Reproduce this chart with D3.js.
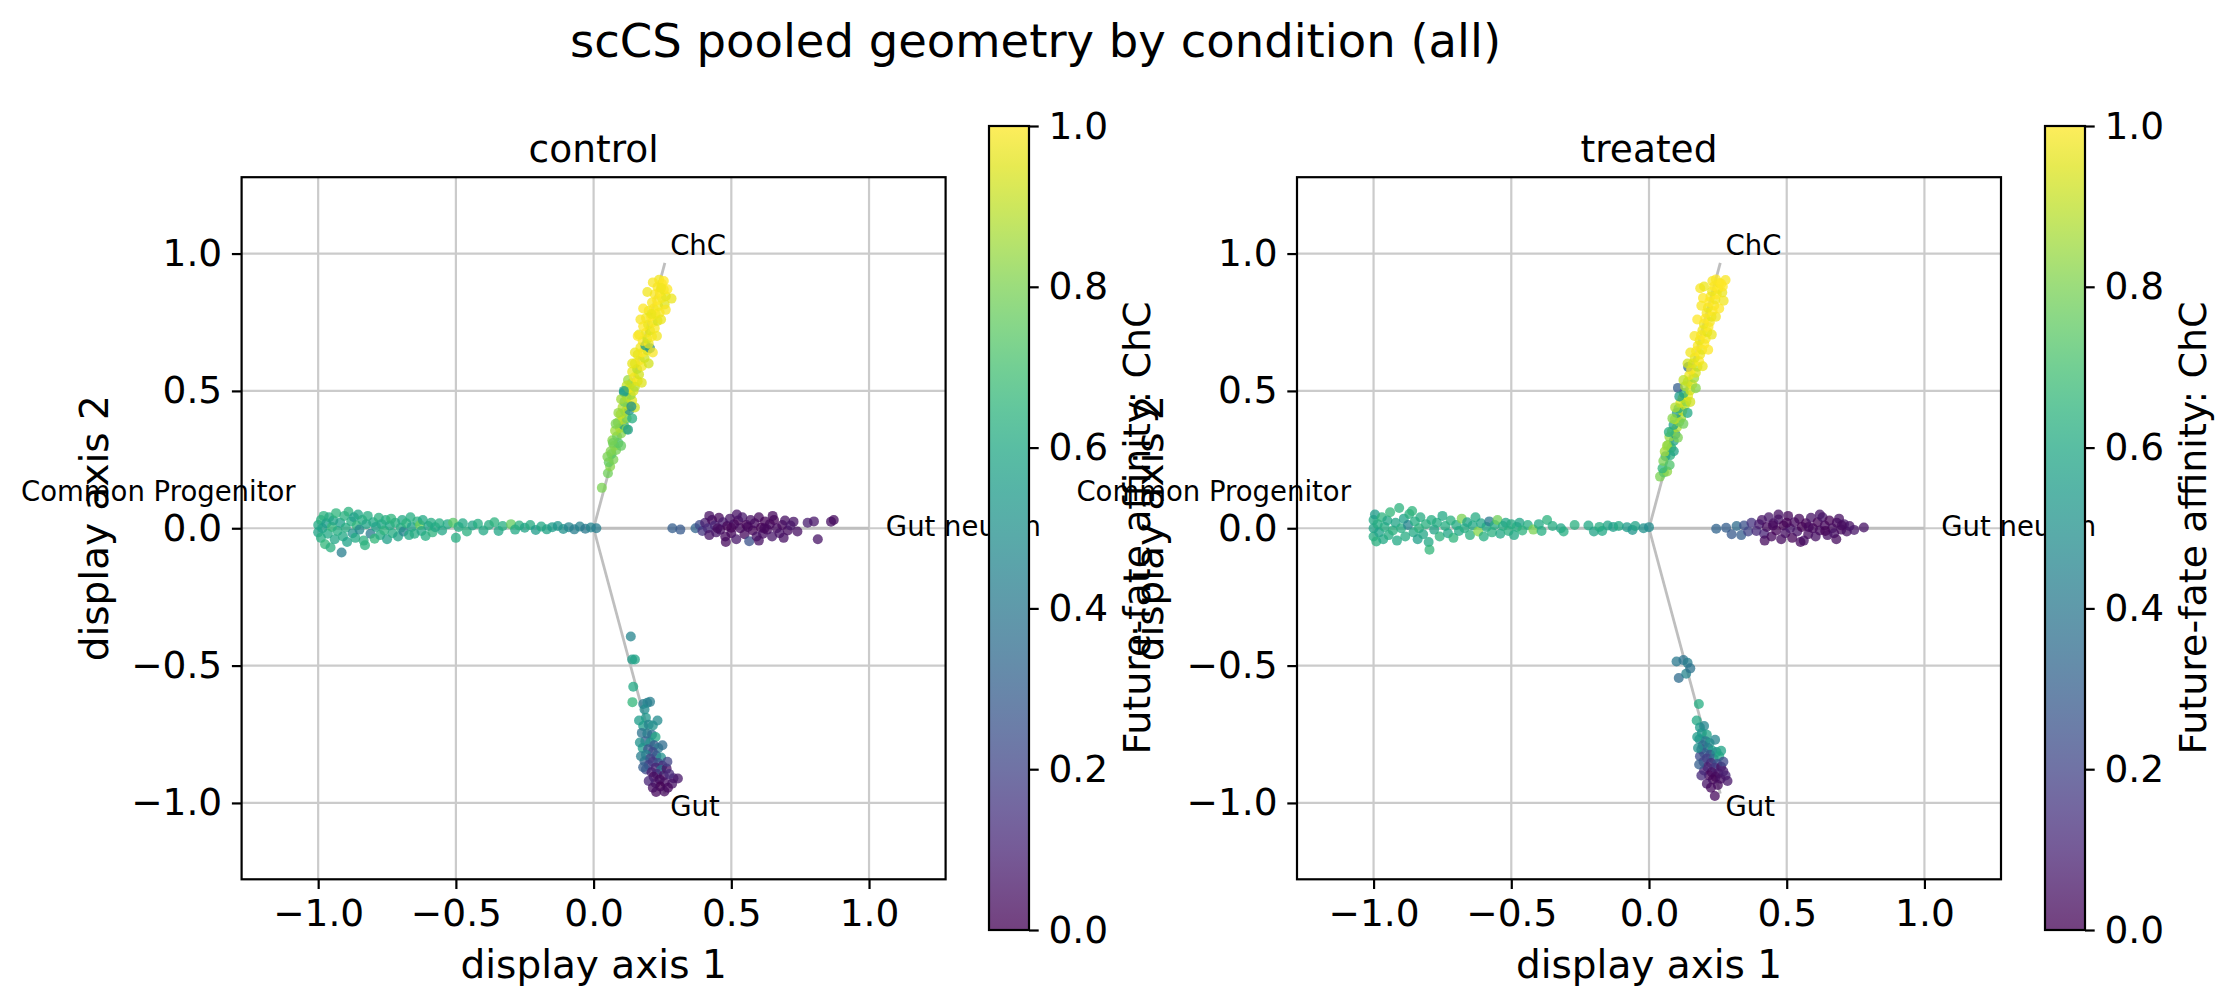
<!DOCTYPE html>
<html>
<head>
<meta charset="utf-8">
<script src="https://cdn.jsdelivr.net/npm/d3@7"></script>
<style>
body { margin: 0; background: #fff; }
svg { display: block; font-family: "DejaVu Sans", sans-serif; }
</style>
</head>
<body>
<svg id="chart"></svg>
<script>
// DATA
var figTitle = "scCS pooled geometry by condition (all)";
var panelNames = ["control", "treated"];
var xLabel = "display axis 1";
var yLabel = "display axis 2";
var cbarLabel = "Future-fate affinity: ChC";
var tickValues = [-1.0, -0.5, 0.0, 0.5, 1.0];
var cbarTicks = [0.0, 0.2, 0.4, 0.6, 0.8, 1.0];

var fateNames = ["Common Progenitor", "ChC", "Gut", "Gut neuron"];
var fateAnchors = [[-1, 0], [0.2588, 0.9659], [0.2588, -0.9659], [1, 0]];
var labelPos = [[-1.082, 0.098], [0.278, 0.994], [0.278, -1.046], [1.061, -0.027]];

// points: [axis 1, axis 2, affinity]
var ctrlProg = [
    [-1.00,0.012,0.60],[-1.00,-0.015,0.58],[-0.99,0.030,0.63],[-0.99,-0.035,0.62],[-0.985,0.000,0.57],[-0.98,0.045,0.64],
    [-0.975,-0.058,0.66],[-0.97,0.018,0.55],[-0.965,-0.020,0.60],[-0.96,0.040,0.61],[-0.955,-0.070,0.63],[-0.95,0.005,0.66],
    [-0.945,0.028,0.58],[-0.94,-0.040,0.59],[-0.935,0.055,0.65],[-0.93,-0.010,0.62],[-0.92,0.020,0.56],[-0.915,-0.088,0.42],
    [-0.91,-0.030,0.60],[-0.905,0.045,0.63],[-0.90,0.002,0.61],[-0.895,-0.050,0.57],[-0.89,0.060,0.64],[-0.88,0.025,0.62],
    [-0.875,-0.018,0.50],[-0.87,0.040,0.55],[-0.865,-0.035,0.60],[-0.86,0.010,0.65],[-0.855,0.050,0.59],[-0.85,-0.005,0.47],
    [-0.84,0.030,0.61],[-0.835,-0.045,0.63],[-0.83,-0.062,0.64],[-0.825,0.015,0.58],[-0.82,0.045,0.62],[-0.81,-0.020,0.40],
    [-0.80,0.022,0.60],[-0.795,-0.038,0.66],[-0.79,0.005,0.57],[-0.78,0.038,0.63],[-0.775,-0.025,0.61],[-0.77,0.015,0.59],
    [-0.76,-0.008,0.64],[-0.755,0.030,0.62],[-0.75,-0.040,0.56],[-0.74,0.010,0.60],[-0.735,0.035,0.65],[-0.73,-0.018,0.61],
    [-0.72,0.020,0.63],[-0.71,-0.030,0.58],[-0.70,0.002,0.62],[-0.695,0.030,0.60],[-0.69,-0.012,0.45],[-0.68,0.018,0.64],
    [-0.67,-0.025,0.60],[-0.665,0.040,0.62],[-0.66,0.005,0.57],[-0.65,-0.020,0.61],[-0.64,0.025,0.63],[-0.63,0.012,0.78],
    [-0.625,-0.010,0.59],[-0.62,0.030,0.60],[-0.61,-0.028,0.62],[-0.60,0.008,0.58],[-0.59,0.020,0.61],[-0.585,-0.015,0.64],
    [-0.575,0.004,0.60],[-0.56,0.018,0.62],[-0.55,-0.008,0.59],
    [-0.53,0.015,0.60],[-0.51,0.020,0.74],[-0.50,-0.035,0.62],[-0.49,0.005,0.61],[-0.475,0.018,0.60],[-0.46,-0.012,0.63],
    [-0.44,0.010,0.58],[-0.42,0.016,0.62],[-0.40,-0.008,0.60],[-0.38,0.012,0.61],[-0.36,0.022,0.64],[-0.345,-0.010,0.59],
    [-0.33,0.008,0.62],[-0.30,0.015,0.76],[-0.285,-0.005,0.60],[-0.27,0.010,0.63],[-0.25,0.002,0.58],[-0.23,0.012,0.61],
    [-0.21,-0.006,0.55],[-0.19,0.006,0.60],[-0.17,-0.004,0.58],[-0.15,0.004,0.55],[-0.13,0.008,0.52],[-0.11,-0.003,0.50],
    [-0.09,0.004,0.46],[-0.07,-0.004,0.42],[-0.05,0.006,0.44],[-0.03,-0.002,0.40],[-0.01,0.003,0.45],[0.01,0.000,0.42]
];
var ctrlChC = [
    [0.030,0.147,0.80],[0.052,0.200,0.78],[0.060,0.225,0.82],[0.055,0.240,0.76],[0.072,0.250,0.80],[0.065,0.270,0.74],
    [0.082,0.285,0.79],[0.075,0.300,0.83],[0.090,0.310,0.70],[0.068,0.320,0.82],[0.085,0.335,0.77],[0.100,0.345,0.81],
    [0.078,0.355,0.85],[0.095,0.365,0.87],[0.110,0.375,0.55],[0.088,0.385,0.83],[0.105,0.395,0.90],[0.120,0.400,0.80],
    [0.098,0.415,0.92],[0.115,0.425,0.86],[0.130,0.430,0.50],[0.105,0.440,0.88],[0.125,0.450,0.93],[0.112,0.460,0.78],
    [0.140,0.465,0.95],[0.120,0.478,0.90],[0.135,0.485,0.84],[0.110,0.495,0.52],[0.145,0.500,0.94],[0.128,0.510,0.97],
    [0.150,0.515,0.88],[0.138,0.528,0.92],[0.160,0.535,0.96],[0.125,0.540,0.85],[0.148,0.550,0.99],[0.165,0.560,0.93],
    [0.140,0.570,0.97],[0.158,0.580,0.90],[0.175,0.590,0.98],[0.150,0.600,0.95],[0.168,0.612,0.99],[0.185,0.620,0.92],
    [0.160,0.632,0.96],[0.178,0.640,1.00],[0.195,0.648,0.94],[0.205,0.655,0.48],[0.170,0.658,0.98],[0.188,0.665,0.55],
    [0.200,0.672,0.97],[0.178,0.682,0.99],[0.195,0.690,0.93],[0.212,0.698,1.00],[0.165,0.705,0.96],[0.190,0.712,0.98],
    [0.205,0.720,0.95],[0.222,0.728,0.99],[0.180,0.735,1.00],[0.198,0.742,0.97],[0.215,0.750,0.99],[0.232,0.755,0.94],
    [0.190,0.765,0.98],[0.208,0.772,1.00],[0.225,0.780,0.97],[0.240,0.785,0.99],[0.200,0.792,0.96],[0.218,0.800,1.00],
    [0.235,0.808,0.98],[0.258,0.815,0.95],[0.283,0.836,0.97],[0.212,0.822,0.99],[0.230,0.830,1.00],[0.248,0.838,0.98],
    [0.262,0.845,0.96],[0.222,0.852,0.99],[0.240,0.860,1.00],[0.255,0.868,0.97],[0.232,0.878,0.99],[0.248,0.890,1.00],
    [0.238,0.905,0.98],
    [0.150,0.640,0.97],[0.215,0.640,0.99],[0.160,0.700,1.00],[0.230,0.700,0.98],[0.170,0.760,0.99],[0.245,0.760,0.97],
    [0.180,0.800,1.00],[0.262,0.795,0.99],[0.195,0.860,0.98],[0.268,0.870,1.00],[0.140,0.600,0.96],[0.200,0.600,0.93],
    [0.120,0.520,0.90],[0.175,0.530,0.95],[0.100,0.470,0.86],[0.150,0.440,0.92],[0.090,0.420,0.84],[0.140,0.400,0.62],
    [0.080,0.380,0.80],[0.120,0.360,0.82],[0.070,0.310,0.78],[0.100,0.300,0.76],[0.062,0.280,0.81],[0.050,0.260,0.80],
    [0.215,0.895,0.99],[0.255,0.900,1.00],[0.245,0.875,0.98],[0.210,0.780,0.97],[0.137,0.443,0.50],[0.125,0.359,0.55],
    [0.110,0.500,0.58]
];
var ctrlGut = [
    [0.135,-0.394,0.45],[0.140,-0.478,0.55],[0.150,-0.478,0.58],[0.144,-0.577,0.60],[0.141,-0.633,0.66],
    [0.180,-0.640,0.40],[0.195,-0.635,0.45],[0.205,-0.632,0.42],[0.185,-0.660,0.48],[0.190,-0.690,0.52],[0.180,-0.720,0.55],
    [0.200,-0.715,0.45],[0.215,-0.718,0.50],[0.175,-0.745,0.38],[0.195,-0.748,0.42],[0.212,-0.752,0.35],[0.225,-0.760,0.60],
    [0.188,-0.775,0.30],[0.205,-0.780,0.52],[0.220,-0.790,0.28],[0.178,-0.800,0.55],[0.198,-0.805,0.25],[0.235,-0.800,0.40],
    [0.215,-0.815,0.22],[0.190,-0.825,0.45],[0.228,-0.828,0.30],[0.205,-0.838,0.20],[0.245,-0.835,0.50],
    [0.185,-0.848,0.32],[0.215,-0.850,0.15],[0.235,-0.855,0.25],[0.200,-0.862,0.18],[0.250,-0.865,0.12],[0.225,-0.872,0.10],
    [0.190,-0.878,0.22],[0.245,-0.880,0.40],[0.210,-0.888,0.08],[0.265,-0.875,0.05],[0.230,-0.895,0.12],[0.255,-0.900,0.06],
    [0.218,-0.905,0.03],[0.240,-0.915,0.02],[0.225,-0.928,0.05],[0.258,-0.925,0.04],[0.242,-0.940,0.00],[0.290,-0.910,0.08],
    [0.306,-0.911,0.06],[0.227,-0.960,0.02],[0.257,-0.958,0.03],
    [0.165,-0.700,0.55],[0.232,-0.700,0.48],[0.168,-0.780,0.50],[0.250,-0.790,0.35],[0.172,-0.830,0.42],[0.268,-0.850,0.20],
    [0.180,-0.870,0.30],[0.275,-0.895,0.12],[0.200,-0.920,0.10],[0.285,-0.930,0.05],[0.215,-0.945,0.04],[0.270,-0.945,0.02]
];
var ctrlNeuron = [
    [0.286,0.000,0.30],[0.315,-0.005,0.28],[0.370,0.000,0.32],[0.385,0.012,0.22],
    [0.395,-0.010,0.15],[0.405,0.020,0.08],[0.415,0.000,0.12],[0.420,-0.025,0.05],[0.430,0.030,0.03],[0.440,0.010,0.10],
    [0.445,-0.015,0.06],[0.455,0.038,0.02],[0.460,-0.005,0.04],[0.470,0.022,0.08],[0.478,-0.030,0.03],[0.485,0.008,0.01],
    [0.495,0.035,0.05],[0.500,-0.018,0.02],[0.510,0.015,0.04],[0.518,-0.040,0.06],[0.525,0.028,0.01],[0.532,0.000,0.03],
    [0.540,0.040,0.07],[0.548,-0.022,0.02],[0.555,0.012,0.00],[0.565,-0.047,0.25],[0.570,0.030,0.04],[0.578,-0.008,0.01],
    [0.585,0.018,0.03],[0.592,-0.030,0.05],[0.600,0.040,0.02],[0.608,0.002,0.00],[0.615,-0.020,0.04],[0.622,0.025,0.01],
    [0.630,-0.005,0.03],[0.640,0.015,0.02],[0.648,-0.030,0.06],[0.655,0.030,0.01],[0.665,0.000,0.03],[0.675,-0.018,0.05],
    [0.685,0.012,0.02],[0.695,0.028,0.04],[0.705,-0.008,0.03],[0.715,0.010,0.06],
    [0.726,0.024,0.05],[0.740,-0.012,0.04],[0.777,0.020,0.08],[0.800,0.025,0.06],[0.814,-0.040,0.05],[0.862,0.024,0.04],
    [0.872,0.030,0.03],
    [0.420,0.045,0.04],[0.480,-0.050,0.03],[0.520,0.050,0.05],[0.600,-0.045,0.04],[0.650,0.045,0.02],[0.560,0.005,0.02],
    [0.500,0.002,0.01],[0.450,0.000,0.03],[0.620,0.000,0.02],[0.690,-0.035,0.04]
];

var trtProg = [
    [-1.00,0.030,0.60],[-1.00,-0.030,0.62],[-1.00,0.000,0.58],[-0.995,0.050,0.55],[-0.99,-0.048,0.63],[-0.985,0.015,0.61],
    [-0.98,-0.015,0.57],[-0.97,0.040,0.64],[-0.965,-0.040,0.60],[-0.96,0.005,0.62],[-0.95,0.028,0.59],[-0.945,-0.025,0.61],
    [-0.94,0.058,0.66],[-0.93,-0.008,0.63],[-0.92,0.020,0.58],[-0.915,-0.045,0.60],[-0.907,0.074,0.64],[-0.90,0.000,0.62],
    [-0.89,0.035,0.57],[-0.885,-0.030,0.61],[-0.875,0.012,0.45],[-0.87,0.052,0.63],[-0.86,0.063,0.65],[-0.855,-0.015,0.60],
    [-0.85,0.025,0.62],[-0.84,-0.040,0.56],[-0.835,0.000,0.64],[-0.83,0.040,0.61],[-0.82,-0.022,0.59],[-0.81,0.015,0.63],
    [-0.80,-0.050,0.60],[-0.797,-0.078,0.66],[-0.79,0.030,0.62],[-0.78,-0.005,0.58],[-0.77,0.020,0.61],[-0.76,-0.030,0.64],
    [-0.75,0.045,0.60],[-0.74,0.008,0.62],[-0.73,-0.018,0.59],[-0.72,0.028,0.63],[-0.71,-0.035,0.65],[-0.70,0.012,0.61],
    [-0.69,-0.010,0.60],[-0.68,0.035,0.80],[-0.67,0.000,0.62],[-0.66,0.022,0.58],[-0.65,-0.025,0.63],[-0.64,0.010,0.60],
    [-0.63,0.040,0.61],[-0.62,-0.012,0.82],[-0.61,0.018,0.59],[-0.60,-0.030,0.62],[-0.59,0.005,0.60],[-0.58,0.025,0.40],
    [-0.57,-0.015,0.63],[-0.56,0.012,0.61],[-0.55,0.030,0.78],[-0.54,-0.020,0.60],[-0.53,0.008,0.62],[-0.52,0.020,0.59],
    [-0.51,-0.010,0.63],[-0.50,0.015,0.61],[-0.49,-0.025,0.60],[-0.48,0.005,0.62],[-0.47,0.020,0.58],[-0.46,-0.008,0.64],
    [-0.44,0.012,0.62],[-0.42,-0.005,0.80],[-0.40,0.015,0.60],[-0.39,-0.010,0.62],[-0.37,0.030,0.64],[-0.35,0.008,0.61],
    [-0.32,0.000,0.59],[-0.31,-0.012,0.62],[-0.27,0.012,0.63],[-0.22,0.010,0.60],[-0.20,-0.012,0.58],[-0.18,0.005,0.62],
    [-0.17,-0.010,0.60],[-0.15,0.010,0.59],[-0.13,0.005,0.56],[-0.11,0.008,0.60],[-0.08,0.004,0.55],[-0.06,-0.006,0.52],
    [-0.05,0.008,0.58],[-0.02,0.000,0.50],[0.00,0.004,0.48]
];
var trtChC = [
    [0.040,0.188,0.80],[0.054,0.203,0.74],[0.066,0.207,0.83],[0.049,0.218,0.66],[0.060,0.262,0.55],[0.077,0.266,0.63],
    [0.057,0.279,0.86],[0.081,0.293,0.71],[0.069,0.303,0.79],[0.090,0.318,0.58],[0.074,0.333,0.84],[0.096,0.342,0.50],
    [0.083,0.352,0.82],[0.101,0.367,0.88],[0.089,0.376,0.57],[0.110,0.388,0.80],[0.094,0.397,0.91],[0.117,0.402,0.86],
    [0.101,0.420,0.54],[0.121,0.427,0.92],[0.107,0.436,0.61],[0.130,0.447,0.88],[0.114,0.457,0.95],[0.136,0.461,0.82],
    [0.122,0.474,0.90],[0.142,0.482,0.97],[0.126,0.492,0.66],[0.105,0.511,0.30],[0.150,0.502,0.93],[0.131,0.517,0.87],
    [0.157,0.523,0.98],[0.141,0.533,0.92],[0.164,0.547,0.85],[0.146,0.557,0.97],[0.142,0.587,0.35],[0.170,0.566,0.94],
    [0.153,0.577,0.99],[0.176,0.588,0.90],[0.159,0.600,0.96],[0.182,0.608,1.00],[0.166,0.621,0.95],[0.186,0.633,0.98],
    [0.171,0.644,1.00],[0.193,0.650,0.96],[0.177,0.664,0.99],[0.201,0.671,1.00],[0.184,0.684,0.97],[0.206,0.690,0.99],
    [0.189,0.703,1.00],[0.212,0.714,0.95],[0.194,0.721,0.98],[0.216,0.733,1.00],[0.199,0.744,0.97],[0.221,0.751,0.99],
    [0.204,0.763,1.00],[0.227,0.770,0.96],[0.209,0.784,0.99],[0.231,0.791,1.00],[0.214,0.803,0.97],[0.237,0.811,0.99],
    [0.219,0.824,1.00],[0.241,0.833,0.98],[0.223,0.843,0.99],[0.246,0.851,1.00],[0.229,0.863,0.97],[0.251,0.871,0.99],
    [0.236,0.881,1.00],[0.256,0.893,0.98],[0.278,0.904,0.99],[0.243,0.906,1.00],[0.186,0.874,0.99],[0.266,0.858,0.97],
    [0.196,0.838,1.00],[0.271,0.828,0.98],
    [0.150,0.640,0.98],[0.215,0.650,1.00],[0.165,0.700,0.99],[0.228,0.705,0.97],[0.175,0.760,1.00],[0.243,0.770,0.98],
    [0.190,0.810,0.99],[0.255,0.800,1.00],[0.200,0.880,0.97],[0.268,0.880,1.00],[0.140,0.600,0.93],[0.195,0.590,0.97],
    [0.125,0.540,0.90],[0.170,0.510,0.82],[0.110,0.480,0.55],[0.150,0.460,0.93],[0.095,0.440,0.88],[0.140,0.420,0.60],
    [0.085,0.400,0.82],[0.125,0.380,0.78],[0.072,0.350,0.62],[0.105,0.330,0.80],[0.065,0.300,0.85],[0.090,0.280,0.58],
    [0.052,0.245,0.80],[0.075,0.230,0.72],[0.230,0.900,0.99],[0.262,0.890,1.00]
];
var trtGut = [
    [0.100,-0.485,0.40],[0.125,-0.480,0.38],[0.140,-0.490,0.42],[0.108,-0.545,0.35],[0.135,-0.530,0.45],[0.150,-0.510,0.38],
    [0.181,-0.640,0.62],[0.173,-0.700,0.60],[0.185,-0.725,0.55],[0.200,-0.720,0.45],[0.192,-0.745,0.50],[0.210,-0.752,0.58],
    [0.183,-0.768,0.48],[0.205,-0.775,0.40],[0.220,-0.782,0.52],[0.195,-0.790,0.35],[0.190,-0.805,0.28],[0.215,-0.800,0.42],
    [0.230,-0.810,0.55],[0.200,-0.818,0.30],[0.222,-0.825,0.25],[0.245,-0.815,0.50],[0.185,-0.830,0.22],[0.210,-0.838,0.18],
    [0.235,-0.840,0.35],[0.255,-0.830,0.60],[0.198,-0.850,0.20],[0.225,-0.855,0.12],[0.248,-0.858,0.25],[0.212,-0.870,0.08],
    [0.238,-0.872,0.15],[0.262,-0.868,0.05],[0.200,-0.882,0.10],[0.228,-0.888,0.04],[0.252,-0.892,0.06],[0.218,-0.900,0.02],
    [0.242,-0.905,0.03],[0.278,-0.900,0.10],[0.232,-0.915,0.01],[0.260,-0.912,0.04],[0.239,-0.975,0.02],
    [0.175,-0.760,0.55],[0.240,-0.770,0.45],[0.178,-0.800,0.50],[0.262,-0.810,0.58],[0.182,-0.860,0.30],[0.270,-0.850,0.22],
    [0.190,-0.900,0.12],[0.285,-0.920,0.06],[0.210,-0.930,0.05],[0.250,-0.935,0.03],[0.225,-0.945,0.02],[0.270,-0.885,0.08]
];
var trtNeuron = [
    [0.244,-0.002,0.32],[0.280,0.002,0.30],[0.300,-0.022,0.28],[0.318,0.008,0.35],[0.335,-0.025,0.30],[0.345,0.010,0.25],
    [0.360,-0.012,0.20],[0.372,0.020,0.15],
    [0.390,-0.010,0.12],[0.400,0.015,0.08],[0.410,0.030,0.05],[0.418,-0.020,0.10],[0.428,0.005,0.03],[0.435,0.040,0.06],
    [0.445,-0.030,0.02],[0.452,0.018,0.04],[0.462,-0.008,0.01],[0.470,0.032,0.05],[0.480,-0.040,0.03],[0.488,0.010,0.00],
    [0.495,-0.018,0.04],[0.505,0.045,0.02],[0.512,0.000,0.06],[0.520,-0.035,0.01],[0.528,0.022,0.03],[0.538,-0.012,0.05],
    [0.545,0.035,0.02],[0.555,0.005,0.00],[0.562,-0.045,0.04],[0.570,0.018,0.01],[0.578,-0.022,0.03],[0.588,0.038,0.05],
    [0.595,0.000,0.02],[0.605,-0.030,0.04],[0.612,0.022,0.01],[0.620,-0.008,0.03],[0.630,0.040,0.06],[0.638,0.010,0.02],
    [0.648,-0.025,0.04],[0.655,0.028,0.01],[0.665,0.000,0.03],[0.672,-0.018,0.05],[0.682,0.020,0.02],[0.690,0.035,0.04],
    [0.698,-0.005,0.03],[0.708,0.015,0.06],[0.718,-0.012,0.04],[0.728,0.008,0.05],[0.745,-0.006,0.06],[0.780,0.003,0.05],
    [0.420,-0.045,0.03],[0.470,0.050,0.04],[0.550,-0.050,0.02],[0.620,0.050,0.05],[0.680,-0.040,0.03],[0.500,0.020,0.01],
    [0.580,0.005,0.02],[0.640,-0.010,0.01],[0.700,0.010,0.03],[0.450,0.010,0.02]
];

// SETUP
var W = 2235, H = 1007;
var lim = 1.278;
var axTop = 177.2, axBottom = 879.3, axSize = 704;
var cbarTop = 126, cbarBottom = 930, cbarWidth = 40;
var pointAlpha = 0.75;
var tickLen = 9.7, lineW = 2.2;
var tickFont = 37.5, labelFont = 39;
var fmt = d3.format(".1f");

var panels = [
    { name: panelNames[0], left: 241.6, cbarLeft: 989, points: [ctrlProg, ctrlChC, ctrlGut, ctrlNeuron] },
    { name: panelNames[1], left: 1297, cbarLeft: 2045, points: [trtProg, trtChC, trtGut, trtNeuron] }
];

var svg = d3.select("#chart").attr("width", W).attr("height", H);
var defs = svg.append("defs");

//Colorbar gradient (viridis, same alpha as points)
var grad = defs.append("linearGradient").attr("id", "viridis")
    .attr("x1", 0).attr("y1", 1).attr("x2", 0).attr("y2", 0);
d3.range(0, 21).forEach(function (i) {
    grad.append("stop").attr("offset", i / 20)
        .attr("stop-color", d3.interpolateViridis(i / 20))
        .attr("stop-opacity", pointAlpha);
});

function styleAxis(g, size) {
    g.attr("font-size", size).attr("font-family", "DejaVu Sans");
    g.select(".domain").remove();
    g.selectAll(".tick line").attr("stroke-width", lineW);
}

//DRAWING ONE PANEL
function drawPanel(p, idx) {
    var x = d3.scaleLinear().domain([-lim, lim]).range([p.left, p.left + axSize]);
    var y = d3.scaleLinear().domain([-lim, lim]).range([axBottom, axTop]);
    var g = svg.append("g");

    defs.append("clipPath").attr("id", "clip" + idx).append("rect")
        .attr("x", x(-lim)).attr("y", axTop).attr("width", axSize).attr("height", axBottom - axTop);

    // grid
    var grid = g.append("g").attr("stroke", "#cbcbcb").attr("stroke-width", lineW);
    grid.selectAll(".gx").data(tickValues).enter().append("line")
        .attr("x1", function (d) { return x(d); }).attr("x2", function (d) { return x(d); })
        .attr("y1", axTop).attr("y2", axBottom);
    grid.selectAll(".gy").data(tickValues).enter().append("line")
        .attr("y1", function (d) { return y(d); }).attr("y2", function (d) { return y(d); })
        .attr("x1", x(-lim)).attr("x2", x(lim));

    // arms from the centre to each fate
    g.append("g").selectAll("line").data(fateAnchors).enter().append("line")
        .attr("x1", x(0)).attr("y1", y(0))
        .attr("x2", function (d) { return x(d[0]); })
        .attr("y2", function (d) { return y(d[1]); })
        .attr("stroke", "#bfbfbf").attr("stroke-width", 2.8);

    // points (above grid and arms)
    var pts = [].concat.apply([], p.points);
    g.append("g").attr("clip-path", "url(#clip" + idx + ")")
        .selectAll("circle").data(pts).enter().append("circle")
        .attr("cx", function (d) { return x(d[0]); })
        .attr("cy", function (d) { return y(d[1]); })
        .attr("r", 5)
        .attr("fill", function (d) { return d3.interpolateViridis(d[2]); })
        .attr("fill-opacity", pointAlpha);

    // frame
    g.append("rect").attr("x", x(-lim)).attr("y", axTop)
        .attr("width", axSize).attr("height", axBottom - axTop)
        .attr("fill", "none").attr("stroke", "#000").attr("stroke-width", lineW);

    // axes
    g.append("g").attr("transform", "translate(0," + axBottom + ")")
        .call(d3.axisBottom(x).tickValues(tickValues).tickSize(tickLen).tickPadding(10.5).tickFormat(fmt))
        .call(styleAxis, tickFont);
    g.append("g").attr("transform", "translate(" + x(-lim) + ",0)")
        .call(d3.axisLeft(y).tickValues(tickValues).tickSize(tickLen).tickPadding(tickLen).tickFormat(fmt))
        .call(styleAxis, tickFont);

    // fate labels
    g.selectAll(".fate").data(fateNames).enter().append("text")
        .attr("x", function (d, i) { return x(labelPos[i][0]); })
        .attr("y", function (d, i) { return y(labelPos[i][1]); })
        .attr("text-anchor", function (d, i) { return labelPos[i][0] < 0 ? "end" : "start"; })
        .attr("font-size", 27.5)
        .text(function (d) { return d; });

    // title and axis labels
    g.append("text").attr("x", x(0)).attr("y", 161.7).attr("text-anchor", "middle")
        .attr("font-size", 37.5).text(p.name);
    g.append("text").attr("x", x(0)).attr("y", 978).attr("text-anchor", "middle")
        .attr("font-size", labelFont).text(xLabel);
    g.append("text").attr("transform", "translate(" + (p.left - 134) + "," + y(0) + ") rotate(-90)")
        .attr("text-anchor", "middle").attr("font-size", labelFont).text(yLabel);
}

//DRAWING ONE COLORBAR
function drawColorbar(left) {
    var c = d3.scaleLinear().domain([0, 1]).range([cbarBottom, cbarTop]);
    var g = svg.append("g");
    g.append("rect").attr("x", left).attr("y", cbarTop)
        .attr("width", cbarWidth).attr("height", cbarBottom - cbarTop)
        .attr("fill", "#fff");
    g.append("rect").attr("x", left).attr("y", cbarTop)
        .attr("width", cbarWidth).attr("height", cbarBottom - cbarTop)
        .attr("fill", "url(#viridis)").attr("stroke", "#000").attr("stroke-width", lineW);
    g.append("g").attr("transform", "translate(" + (left + cbarWidth) + ",0)")
        .call(d3.axisRight(c).tickValues(cbarTicks).tickSize(tickLen).tickPadding(tickLen).tickFormat(fmt))
        .call(styleAxis, tickFont);
    g.append("text").attr("transform", "translate(" + (left + cbarWidth + 121) + "," + ((cbarTop + cbarBottom) / 2) + ") rotate(-90)")
        .attr("text-anchor", "middle").attr("font-size", 38).text(cbarLabel);
}

panels.forEach(drawPanel);
panels.forEach(function (p) { drawColorbar(p.cbarLeft); });

svg.append("text").attr("x", 1035.5).attr("y", 57).attr("text-anchor", "middle")
    .attr("font-size", 46.5).text(figTitle);
</script>
</body>
</html>
